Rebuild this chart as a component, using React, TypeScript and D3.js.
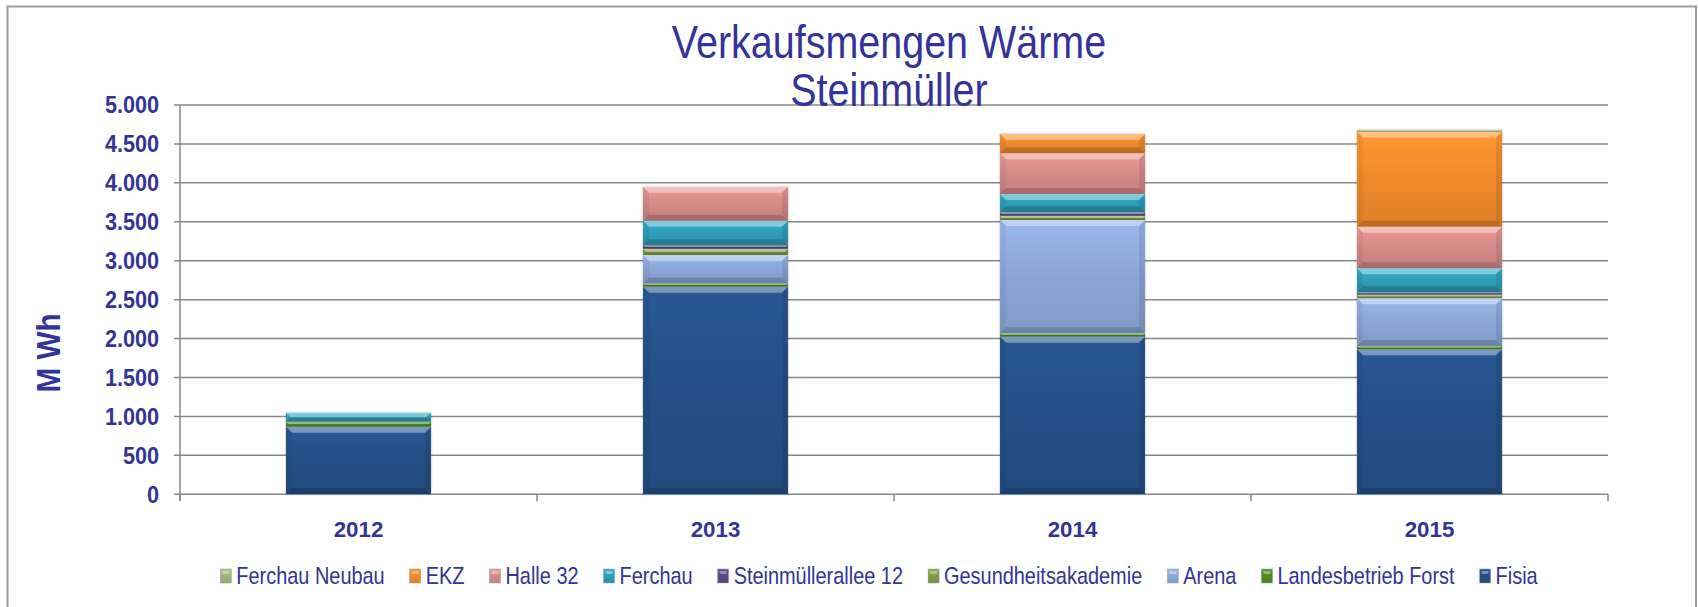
import React from 'react';
import * as d3 from 'd3';

const CATEGORIES = ['2012', '2013', '2014', '2015'];

// stack order bottom -> top
const SERIES = ['Fisia', 'Landesbetrieb Forst', 'Arena', 'Gesundheitsakademie', 'Steinmüllerallee 12', 'Ferchau', 'Halle 32', 'EKZ', 'Ferchau Neubau'];
const FISIA = [868, 2666, 2024, 1862];
const LANDESBETRIEB_FORST = [64, 43, 43, 43];
const ARENA = [0, 363, 1455, 613];
const GESUNDHEITSAKADEMIE = [0, 81, 55, 46];
const STEINMUELLERALLEE_12 = [0, 47, 44, 31];
const FERCHAU = [115, 312, 235, 308];
const HALLE_32 = [0, 437, 523, 534];
const EKZ = [0, 0, 248, 1220];
const FERCHAU_NEUBAU = [0, 0, 0, 22];
const SERIES_VALUES = [FISIA, LANDESBETRIEB_FORST, ARENA, GESUNDHEITSAKADEMIE, STEINMUELLERALLEE_12, FERCHAU, HALLE_32, EKZ, FERCHAU_NEUBAU];
const COLORS = ['#254f86', '#4e8a22', '#8aa6d6', '#7f9c45', '#5c4786', '#2e9db6', '#d48a88', '#f0892b', '#9fb57e'];

const Y_TICKS = [0, 500, 1000, 1500, 2000, 2500, 3000, 3500, 4000, 4500, 5000];
const TITLE_LINES = ['Verkaufsmengen Wärme', 'Steinmüller'];
const Y_TITLE = 'M Wh';

const W = 1698;
const H = 607;
const TEXT = '#333399';
const FONT = "'Liberation Sans', Arial, sans-serif";

const locale = d3.formatLocale({ decimal: ',', thousands: '.', grouping: [3], currency: ['', '€'] });
const fmt = locale.format(',d');

function measure(text: string, font: string): number {
  const c = document.createElement('canvas');
  const ctx = c.getContext('2d');
  if (!ctx) return text.length * 10;
  ctx.font = font;
  return ctx.measureText(text).width;
}

export default function App() {
  const x = d3.scaleBand<string>().domain(CATEGORIES).range([180, 1608]).paddingInner(0.594).paddingOuter(0.297);
  const y = d3.scaleLinear().domain([0, 5000]).range([494.3, 105]);

  const table = CATEGORIES.map((c, i) => {
    const row: any = { cat: c };
    SERIES.forEach((s, j) => (row[s] = SERIES_VALUES[j][i]));
    return row;
  });
  const stacked = d3.stack<any>().keys(SERIES)(table);

  // legend layout
  const LEG_FS = 24;
  const LEG_SX = 0.83;
  const legendItems = SERIES.slice().reverse();
  const marker = 11;
  const gapAfterMarker = 5;
  const gapBetween = 25;
  const widths = legendItems.map((s) => measure(s, `${LEG_FS}px ${FONT}`) * LEG_SX);
  const itemW = widths.map((w) => marker + gapAfterMarker + w);
  const total = d3.sum(itemW) + gapBetween * (legendItems.length - 1);
  let cursor = 879 - total / 2;
  const legendPos = itemW.map((w) => {
    const p = cursor;
    cursor += w + gapBetween;
    return p;
  });
  const legendY = 576;

  const bevel = (x0: number, y0: number, w: number, h: number, key: string) => {
    const b = Math.min(6, h / 2);
    const x1 = x0 + w;
    const y1 = y0 + h;
    return (
      <g key={key}>
        <polygon points={`${x0},${y0} ${x1},${y0} ${x1 - b},${y0 + b} ${x0 + b},${y0 + b}`} fill="#fff" opacity={0.38} />
        <polygon points={`${x0},${y1} ${x1},${y1} ${x1 - b},${y1 - b} ${x0 + b},${y1 - b}`} fill="#000" opacity={0.16} />
        <polygon points={`${x0},${y0} ${x0 + b},${y0 + b} ${x0 + b},${y1 - b} ${x0},${y1}`} fill="#000" opacity={0.05} />
        <polygon points={`${x1},${y0} ${x1 - b},${y0 + b} ${x1 - b},${y1 - b} ${x1},${y1}`} fill="#000" opacity={0.09} />
      </g>
    );
  };

  const [y0, y1] = y.range();
  const [xr0, xr1] = x.range();
  const boundaries = d3.range(CATEGORIES.length + 1).map((i) => xr0 + x.step() * i);

  return (
    <svg width={W} height={H} style={{ position: 'absolute', left: 0, top: 0, background: '#fff' }} fontFamily={FONT}>
      <defs>
        {COLORS.map((c, i) => (
          <linearGradient key={i} id={`g${i}`} x1="0" y1="0" x2="0" y2="1">
            <stop offset="0" stopColor={d3.color(c)!.brighter(0.3).formatHex()} />
            <stop offset="0.5" stopColor={c} />
            <stop offset="1" stopColor={d3.color(c)!.darker(0.2).formatHex()} />
          </linearGradient>
        ))}
        <filter id="sh" x="-5%" y="-5%" width="110%" height="110%">
          <feDropShadow dx="0" dy="0" stdDeviation="1.2" floodColor="#000" floodOpacity="0.35" />
        </filter>
      </defs>

      {/* frame */}
      <path d={`M7.5,${H} V6.5 H1696 V${H}`} fill="none" stroke="#9c9c9c" strokeWidth={2} />

      {/* gridlines */}
      {Y_TICKS.map((t) => (
        <line key={t} x1={174} x2={xr1} y1={y(t)} y2={y(t)} stroke="#888" strokeWidth={1.5} />
      ))}
      {/* axes */}
      <line x1={180} x2={180} y1={y1} y2={y0 + 6} stroke="#888" strokeWidth={1.5} />
      {boundaries.map((b, i) => (
        <line key={i} x1={b} x2={b} y1={y0} y2={y0 + 7} stroke="#888" strokeWidth={1.5} />
      ))}

      {/* bars */}
      {CATEGORIES.map((c, ci) => {
        const top = d3.max(stacked, (s) => s[ci][1])!;
        return (
          <g key={c}>
            <rect x={x(c)!} y={y(top)} width={x.bandwidth()} height={y(0) - y(top)} fill="#fff" filter="url(#sh)" />
            {stacked.map((s, si) => {
              const d = s[ci];
              if (d[1] - d[0] <= 0) return null;
              const bx = x(c)!;
              const by = y(d[1]);
              const bh = y(d[0]) - y(d[1]);
              return (
                <g key={si}>
                  <rect x={bx} y={by} width={x.bandwidth()} height={bh} fill={`url(#g${si})`} />
                  {bevel(bx, by, x.bandwidth(), bh, `b${si}`)}
                </g>
              );
            })}
          </g>
        );
      })}

      {/* title */}
      {TITLE_LINES.map((t, i) => (
        <text key={i} transform={`translate(889,${58 + i * 48}) scale(0.84,1)`} textAnchor="middle" fontSize={47} fill={TEXT}>
          {t}
        </text>
      ))}

      {/* y labels */}
      {Y_TICKS.map((t) => (
        <text key={t} transform={`translate(159,${y(t)}) scale(0.94,1)`} textAnchor="end" dy="0.36em" fontSize={23} fontWeight="bold" fill={TEXT}>
          {fmt(t)}
        </text>
      ))}
      <text transform="translate(60,353) rotate(-90) scale(0.9,1)" textAnchor="middle" fontSize={33} fontWeight="bold" fill={TEXT}>
        {Y_TITLE}
      </text>

      {/* x labels */}
      {CATEGORIES.map((c) => (
        <text key={c} transform={`translate(${x(c)! + x.bandwidth() / 2},537) scale(0.97,1)`} textAnchor="middle" fontSize={23} fontWeight="bold" fill={TEXT}>
          {c}
        </text>
      ))}

      {/* legend */}
      {legendItems.map((s, i) => {
        const si = SERIES.indexOf(s);
        const lx = legendPos[i];
        return (
          <g key={s}>
            <rect x={lx} y={legendY - 7} width={marker} height={marker + 3} fill={`url(#g${si})`} stroke="#999" strokeWidth={0.5} />
            <rect x={lx + 2} y={legendY - 5} width={marker - 4} height={3} fill="#fff" opacity={0.35} />
            <text transform={`translate(${lx + marker + gapAfterMarker},${legendY + 8}) scale(${LEG_SX},1)`} fontSize={LEG_FS} fill={TEXT}>
              {s}
            </text>
          </g>
        );
      })}
    </svg>
  );
}
